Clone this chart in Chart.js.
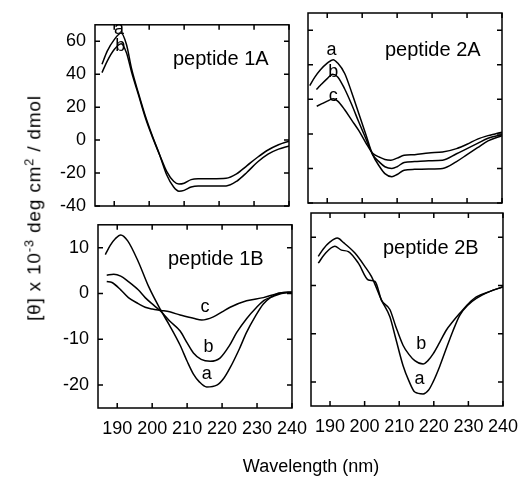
<!DOCTYPE html>
<html lang="en">
<head>
<meta charset="UTF-8">
<title>CD spectra of peptides</title>
<script src="https://cdn.jsdelivr.net/npm/chart.js"></script>
<style>
  body { margin: 0; background: #fff; font-family: 'Liberation Sans', Arial, sans-serif; color: #000; }
  #page { position: relative; width: 526px; height: 477px; overflow: hidden; }
  canvas { position: absolute; }
  .ytitle {
    position: absolute; left: 33px; top: 208px;
    transform: translate(-50%, -50%) rotate(-90deg);
    white-space: nowrap; font-size: 19px; letter-spacing: 0.8px; line-height: 1;
  }
  .ytitle sup { font-size: 13px; }
  .xtitle {
    position: absolute; left: 311px; top: 466px;
    transform: translate(-50%, -50%);
    white-space: nowrap; font-size: 18px;
  }
</style>
</head>
<body>
<div id="page">
  <canvas id="c1A"></canvas>
  <canvas id="c2A"></canvas>
  <canvas id="c1B"></canvas>
  <canvas id="c2B"></canvas>
  <div class="ytitle">[&theta;] x 10<sup>-3</sup> deg cm<sup>2</sup> / dmol</div>
  <div class="xtitle">Wavelength (nm)</div>
</div>

<script>
  // tick labels
  const xTicks = [190, 200, 210, 220, 230, 240];
  const yTicksA = [-40, -20, 0, 20, 40, 60];
  const yTicksB = [-20, -10, 0, 10];

  // peptide 1A
  const nm1A = [186.5, 188, 190, 192, 193.5, 195, 197, 199, 201, 203, 205, 207, 208.5, 210, 212, 214, 218, 222, 225, 228, 231, 234, 237, 240];
  const p1A_a = [46, 54, 61, 65, 58, 43, 28, 14, 2, -9, -21, -28.5, -31, -30.5, -28.5, -27.8, -27.8, -27.8, -25, -19.5, -13.3, -8.5, -5.5, -3.5];
  const p1A_b = [41, 48, 55, 58.5, 53, 41, 27, 13, 1.5, -9, -19, -25, -26.7, -26.2, -24, -23.5, -23.5, -23.2, -20.5, -15.5, -10.4, -6, -2.8, -0.6];

  // peptide 2A
  const nm2A_a = [185, 186.5, 188, 190, 191.7, 193, 195, 197, 199, 201, 203, 205, 206.5, 208.5, 210, 212, 215, 219, 223, 227, 230, 233, 236, 240];
  const p2A_a = [28, 33, 37, 41, 43, 41, 35, 24, 12, 0, -12, -19, -23, -24.8, -23.5, -21, -20.5, -20.3, -20, -16, -12, -8, -4, -1];
  const nm2A_b = [186.9, 188, 190, 191.5, 193, 195, 197, 199, 201, 203, 205, 206.5, 208.5, 210, 212, 215, 219, 223, 227, 230, 233, 236, 240];
  const p2A_b = [25.7, 28, 32, 34.5, 33, 26, 17, 7, -2.5, -12, -16.5, -19, -20, -19, -16.5, -16, -15.5, -15.2, -11.5, -8.5, -5.5, -2.5, -0.5];
  const nm2A_c = [187, 188.5, 190, 191.7, 193, 195, 197, 199, 201, 203, 205, 206.5, 208.2, 210, 212, 215, 219, 223, 227, 230, 233, 236, 238, 240];
  const p2A_c = [16, 17.5, 19, 20.3, 19, 14, 8, 2, -5, -11.2, -13.5, -14.8, -15.2, -14, -12.4, -12, -11, -10.5, -8.5, -6, -3, -1, 0, 1];

  // peptide 1B
  const nm1B_a = [186.6, 188, 189.5, 191, 193, 196, 199, 202.5, 205, 208, 210, 211.8, 213.5, 215.6, 218.5, 220.5, 222.3, 225, 227, 229.5, 231.8, 234, 236, 240];
  const p1B_a = [8.5, 10.5, 12, 12.8, 11.5, 7, 1.5, -3.7, -7, -11.3, -14.8, -17.6, -19.3, -20.4, -20, -18.5, -16.2, -12, -8.5, -5, -2.3, -0.8, 0, 0.3];
  const nm1B_b = [187, 189, 191, 193.2, 196, 198, 200.5, 202.6, 205, 208, 210, 211.8, 214, 216.6, 219.4, 222, 224.2, 227, 229.9, 232, 234.7, 237, 240];
  const p1B_b = [4, 4.2, 3.8, 2.6, 0.8, -0.9, -2.6, -4, -6, -8.2, -10.8, -13, -14.4, -14.8, -14.1, -11.5, -8.5, -5.5, -3, -1.5, -0.6, 0, 0.3];
  const nm1B_c = [187, 188.5, 191, 193.2, 196, 198, 200, 202.6, 205, 208, 211.8, 214.2, 217.5, 220, 222.3, 227, 231.8, 236.6, 240];
  const p1B_c = [2.6, 2.4, 0.8, -0.9, -2.2, -3, -3.4, -3.7, -4, -4.7, -5.4, -5.8, -5.1, -4, -3, -1.6, -0.9, 0.1, 0.3];

  // peptide 2B
  const nm2B_a = [186.6, 188, 190, 192.1, 194, 197.2, 200, 202, 204.9, 207.3, 209, 211.1, 212.8, 214.5, 216.9, 218.5, 219.8, 221.7, 223.6, 225.5, 227.5, 230, 232.3, 236.1, 240];
  const p2B_a = [6, 7.5, 9, 9.8, 8.8, 6.7, 4, 1.8, -3.1, -6.5, -11, -16.6, -19.8, -22.1, -22.5, -21.7, -20, -16.8, -13.1, -9.5, -6.2, -4, -2.7, -1.3, -0.3];
  const nm2B_b = [186.6, 188.5, 191.4, 193.3, 195.3, 198.2, 201.1, 203, 204.9, 207.3, 209, 211.1, 212.8, 214.5, 216.9, 218.3, 219.8, 221.7, 223.6, 225.5, 227.5, 230, 232.3, 236.1, 240];
  const p2B_b = [4.6, 6.5, 8.1, 7.3, 7, 4.6, 1.1, 0.8, -3.1, -5, -8.5, -12.4, -14.3, -15.6, -16.3, -15.6, -14.2, -11.8, -9.3, -7.5, -5.8, -3.8, -2.4, -1.3, -0.3];

  const FONT = "'Liberation Sans', Arial, sans-serif";

  // draws the box, inward ticks on all four sides, panel name and curve letters
  const framePlugin = {
    id: 'frame',
    afterDatasetsDraw(chart, args, opts) {
      const { ctx, chartArea: a } = chart;
      const x = chart.scales.x, y = chart.scales.y;
      ctx.save();
      ctx.strokeStyle = '#000';
      ctx.lineWidth = 1.5;
      ctx.strokeRect(a.left, a.top, a.right - a.left, a.bottom - a.top);
      ctx.beginPath();
      x.ticks.forEach(t => {
        const px = x.getPixelForValue(t.value);
        ctx.moveTo(px, a.bottom); ctx.lineTo(px, a.bottom - 5);
        ctx.moveTo(px, a.top); ctx.lineTo(px, a.top + 5);
      });
      y.ticks.forEach(t => {
        const py = y.getPixelForValue(t.value);
        ctx.moveTo(a.left, py); ctx.lineTo(a.left + 5, py);
        ctx.moveTo(a.right, py); ctx.lineTo(a.right - 5, py);
      });
      ctx.stroke();

      ctx.fillStyle = '#000';
      ctx.textBaseline = 'middle';
      ctx.textAlign = 'left';
      ctx.font = '20px ' + FONT;
      ctx.fillText(opts.title, a.left + opts.dx, a.top + opts.dy);

      ctx.textAlign = 'center';
      ctx.font = '18px ' + FONT;
      opts.letters.forEach(([s, wl, v]) => {
        ctx.fillText(s, x.getPixelForValue(wl), y.getPixelForValue(v));
      });
      ctx.restore();
    }
  };

  function series(xs, ys) {
    return {
      data: xs.map((w, i) => ({ x: w, y: ys[i] })),
      borderColor: '#000',
      borderWidth: 1.5,
      pointRadius: 0,
      fill: false,
      cubicInterpolationMode: 'monotone'
    };
  }

  function makePanel(id, box, cfg) {
    const padTop = 10, padRight = 25, yw = 70, xh = 40;
    const canvas = document.getElementById(id);
    const w = (box.r - box.l) + yw + padRight;
    const h = (box.b - box.t) + padTop + xh;
    canvas.width = w; canvas.height = h;
    canvas.style.left = (box.l - yw) + 'px';
    canvas.style.top = (box.t - padTop) + 'px';
    canvas.style.width = w + 'px';
    canvas.style.height = h + 'px';

    new Chart(canvas, {
      type: 'line',
      data: { datasets: cfg.datasets },
      options: {
        responsive: false,
        animation: false,
        events: [],
        layout: { padding: { top: padTop, right: padRight, left: 0, bottom: 0 } },
        plugins: {
          legend: { display: false },
          tooltip: { enabled: false },
          frame: { title: cfg.title, dx: cfg.dx, dy: cfg.dy, letters: cfg.letters }
        },
        scales: {
          x: {
            type: 'linear',
            min: 184.5,
            max: 240,
            afterBuildTicks: s => { s.ticks = xTicks.map(v => ({ value: v })); },
            afterFit: s => { s.height = xh; },
            grid: { display: false, drawTicks: false },
            border: { display: false },
            ticks: { display: cfg.showX, color: '#000', font: { family: FONT, size: 18 }, padding: 10, maxRotation: 0, autoSkip: false }
          },
          y: {
            type: 'linear',
            min: cfg.ymin,
            max: cfg.ymax,
            afterBuildTicks: s => { s.ticks = cfg.yTicks.map(v => ({ value: v })); },
            afterFit: s => { s.width = yw; },
            grid: { display: false, drawTicks: false },
            border: { display: false },
            ticks: { display: cfg.showY, color: '#000', font: { family: FONT, size: 18 }, padding: 9 }
          }
        }
      },
      plugins: [framePlugin]
    });
  }

  makePanel('c1A', { l: 95, t: 15, r: 289, b: 206 }, {
    datasets: [series(nm1A, p1A_a), series(nm1A, p1A_b)],
    ymin: -40, ymax: 70, yTicks: yTicksA, showX: false, showY: true,
    title: 'peptide 1A', dx: 78, dy: 35,
    letters: [['a', 191.4, 67.5], ['b', 191.7, 57]]
  });

  makePanel('c2A', { l: 308, t: 13, r: 502, b: 203 }, {
    datasets: [series(nm2A_a, p2A_a), series(nm2A_b, p2A_b), series(nm2A_c, p2A_c)],
    ymin: -40, ymax: 70, yTicks: yTicksA, showX: false, showY: false,
    title: 'peptide 2A', dx: 77, dy: 37,
    letters: [['a', 191.2, 48.6], ['b', 191.7, 36], ['c', 191.7, 22]]
  });

  makePanel('c1B', { l: 98, t: 215, r: 292, b: 408 }, {
    datasets: [series(nm1B_a, p1B_a), series(nm1B_b, p1B_b), series(nm1B_c, p1B_c)],
    ymin: -25, ymax: 15, yTicks: yTicksB, showX: true, showY: true,
    title: 'peptide 1B', dx: 70, dy: 35,
    letters: [['a', 215.6, -17.6], ['b', 216.1, -11.7], ['c', 215.1, -3]]
  });

  makePanel('c2B', { l: 311, t: 213, r: 503, b: 406 }, {
    datasets: [series(nm2B_a, p2B_a), series(nm2B_b, p2B_b)],
    ymin: -25, ymax: 15, yTicks: yTicksB, showX: true, showY: false,
    title: 'peptide 2B', dx: 72, dy: 35,
    letters: [['a', 215.9, -19.4], ['b', 216.4, -12.1]]
  });
</script>
</body>
</html>
